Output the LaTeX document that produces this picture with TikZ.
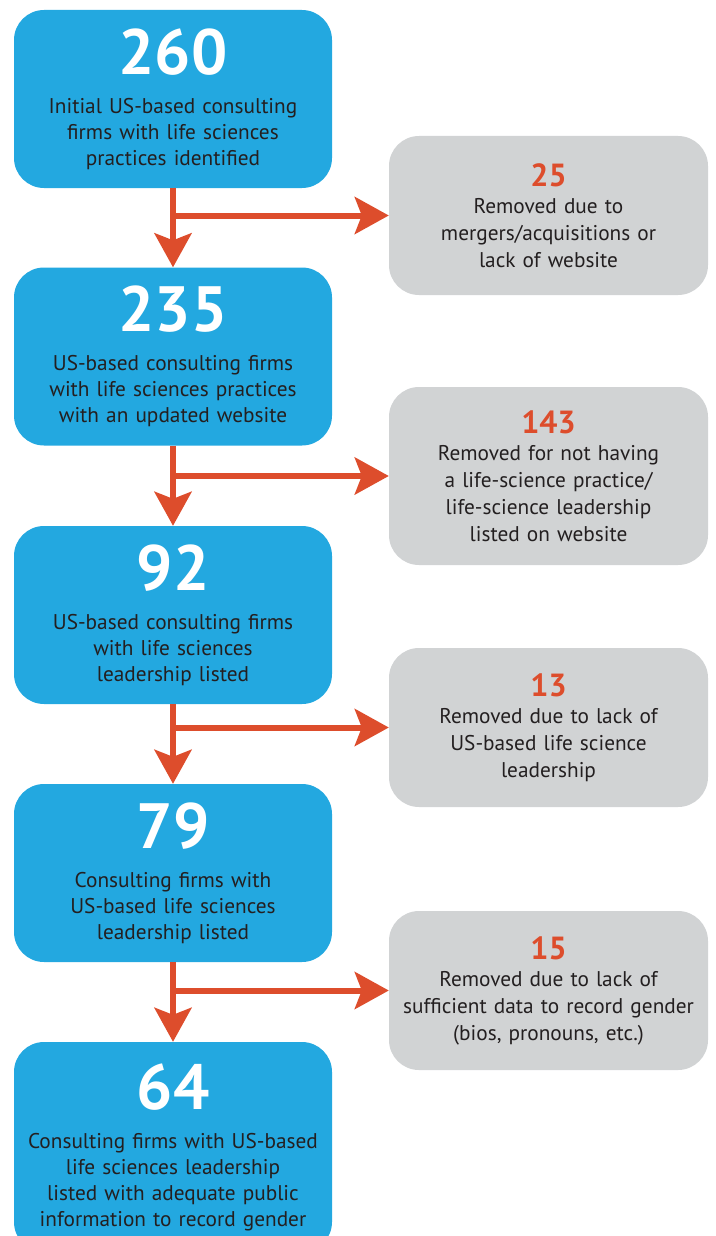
\documentclass[tikz,border=0pt]{standalone}
\usepackage{fontspec}
\setmainfont{PT Sans}
\usepackage{tikz}
\usetikzlibrary{arrows.meta}

\definecolor{stageblue}{RGB}{35,168,224}
\definecolor{dropgrey}{RGB}{209,211,212}
\definecolor{flowred}{RGB}{221,77,44}
\definecolor{ink}{RGB}{35,31,32}

% big count on top of each box
\newcommand{\stagenum}[1]{{\fontsize{64}{64}\selectfont\bfseries\color{white}#1\par}\vspace{13pt}}
\newcommand{\dropnum}[1]{{\fontsize{32}{32}\selectfont\bfseries\color{flowred}#1\par}}

\begin{document}
\begin{tikzpicture}[x=1pt,y=-1pt]
\useasboundingbox (0,0) rectangle (715,1236);
\clip (0,0) rectangle (715,1236);

\tikzstyle{stage}=[rectangle,rounded corners=30pt,fill=stageblue,minimum width=318pt,minimum height=178pt,text width=316pt,inner sep=0pt,align=center,text=ink,font=\fontsize{21.3}{26}\selectfont]
\tikzstyle{drop}=[rectangle,rounded corners=30pt,fill=dropgrey,minimum width=319pt,minimum height=159pt,text width=316pt,inner sep=0pt,align=center,text=ink,font=\fontsize{21.3}{27}\selectfont]
\tikzstyle{flow}=[-{Stealth[length=34pt,width=37pt,inset=7pt]},line width=6pt,draw=flowred]

%Stages - Blue boxes
\node[stage] (S-1) at (173,99) {\stagenum{260}Initial US-based consulting\\firms with life sciences\\practices identified};
\node[stage] (S-2) at (173,356.5) {\stagenum{235}US-based consulting firms\\with life sciences practices\\with an updated website};
\node[stage] (S-3) at (173,615) {\stagenum{92}US-based consulting firms\\with life sciences\\leadership listed};
\node[stage] (S-4) at (173,873) {\stagenum{79}Consulting firms with\\US-based life sciences\\leadership listed};
\node[stage,minimum height=210pt] (S-5) at (173,1147) {\stagenum{64}Consulting firms with US-based\\life sciences leadership\\listed with adequate public\\information to record gender};

%Removed - Grey boxes
\node[drop] (X-1) at (548.5,215.5) {\dropnum{25}Removed due to\\mergers/acquisitions or\\lack of website};
\node[drop,minimum height=178pt] (X-2) at (548.5,476) {\dropnum{143}Removed for not having\\a life-science practice/\\life-science leadership\\listed on website};
\node[drop] (X-3) at (548.5,727.5) {\dropnum{13}Removed due to lack of\\US-based life science\\leadership};
\node[drop] (X-4) at (548.5,990.5) {\dropnum{15}Removed due to lack of\\sufficient data to record gender\\(bios, pronouns, etc.)};

%Links
\foreach \from/\to in {1/2,2/3,3/4,4/5}
\draw[flow] (S-\from) -- (S-\to);
\foreach \x in {1,2,3,4}
\draw[flow] (S-\x.south |- X-\x.west) -- (X-\x.west);

\end{tikzpicture}
\end{document}
